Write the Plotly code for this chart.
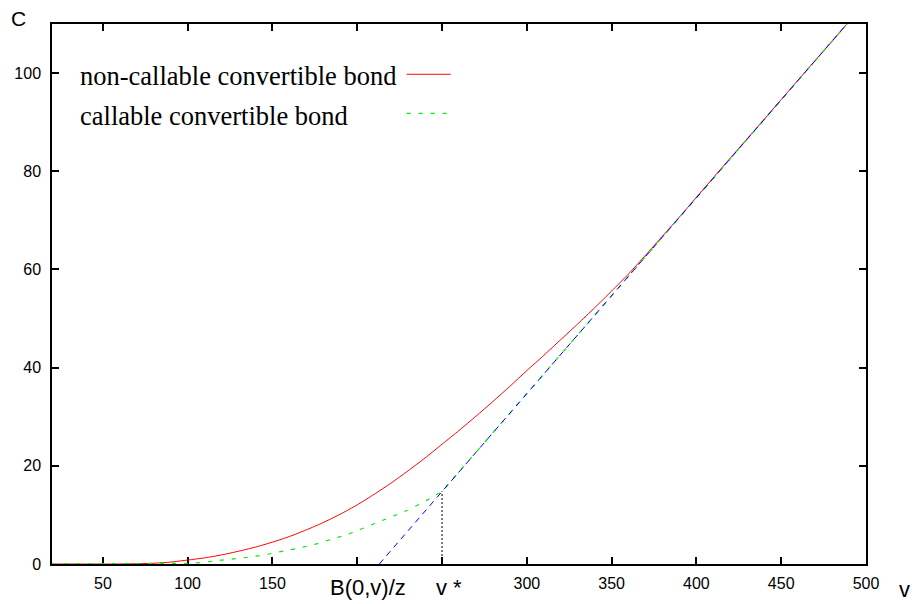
import plotly.graph_objects as go

# ---- data ----
v_red = [20, 40, 60, 80, 90, 100, 110, 120, 130, 140, 150, 160, 170, 180, 190, 200,
         210, 220, 230, 240, 250, 260, 270, 280, 290, 300, 310, 320, 330, 340, 350,
         360, 370, 380, 390, 400, 420, 440, 460, 480, 490]
c_red = [0, 0, 0, 0.15, 0.4, 0.8, 1.25, 1.85, 2.6, 3.45, 4.45, 5.6, 6.95, 8.45, 10.15, 12.05,
         14.2, 16.5, 19.0, 21.6, 24.4, 27.2, 30.1, 33.1, 36.2, 39.4, 42.5, 45.7, 48.9, 52.2, 55.6,
         59.1, 62.9, 66.8, 70.7, 74.7, 82.7, 90.6, 98.6, 106.5, 110.5]

v_green = [20, 60, 90, 100, 107, 115, 125, 135, 145, 155, 165, 175, 185, 195, 200, 210,
           217, 230, 240, 250, 300, 350, 400, 450, 490]
c_green = [0, 0, 0.05, 0.15, 0.27, 0.55, 0.95, 1.35, 1.85, 2.45, 3.2, 4.0, 5.0, 6.1, 6.8, 8.2,
           9.1, 11.0, 12.8, 14.8, 34.7, 54.7, 74.6, 94.6, 110.5]

v_blue = [213, 490]
c_blue = [0, 110.5]

v_star = [250, 250]
c_star = [0, 14.8]

x_tickvals = [50, 100, 150, 200, 250, 300, 350, 400, 450, 500]
x_ticktext = ["50", "100", "150", "", "", "300", "350", "400", "450", "500"]
y_tickvals = [0, 20, 40, 60, 80, 100]
y_ticktext = ["0", "20", "40", "60", "80", "100"]

legend_names = ["non-callable convertible bond", "callable convertible bond"]
special_ticks = [(200, "B(0,v)/z"), (250, "v *")]

# ---- figure ----
fig = go.Figure()
fig.add_trace(go.Scatter(x=v_red, y=c_red, mode="lines",
                         line=dict(color="#ff0000", width=1, shape="spline", smoothing=0.6),
                         showlegend=False))
fig.add_trace(go.Scatter(x=v_green, y=c_green, mode="lines",
                         line=dict(color="#00ee00", width=1.2, dash="4px,8px"), showlegend=False))
fig.add_trace(go.Scatter(x=v_blue, y=c_blue, mode="lines",
                         line=dict(color="#0000ff", width=1, dash="6px,5px"), showlegend=False))
fig.add_trace(go.Scatter(x=v_star, y=c_star, mode="lines",
                         line=dict(color="#000000", width=1, dash="2px,2px"), showlegend=False))

axis_common = dict(showgrid=False, zeroline=False, showline=True, linecolor="black",
                   linewidth=1.5, mirror="ticks", ticks="inside", ticklen=7,
                   tickwidth=1.5, tickcolor="black", layer="below traces",
                   tickfont=dict(family="Liberation Sans, Arial", size=16, color="black"))

fig.update_xaxes(range=[20, 500], tickmode="array", tickvals=x_tickvals,
                 ticktext=x_ticktext, ticklabelstandoff=4, **axis_common)
fig.update_yaxes(range=[0, 110], tickmode="array", tickvals=y_tickvals,
                 ticktext=y_ticktext, ticklabelstandoff=6, **axis_common)

annotations = []
# special x tick labels
shifts = [11, 7]
for (val, txt), sh in zip(special_ticks, shifts):
    annotations.append(dict(x=val, y=-0.043, xref="x", yref="paper", text=txt,
                            showarrow=False, xanchor="center", yanchor="middle", xshift=sh,
                            font=dict(family="Liberation Sans, Arial", size=22, color="black")))
# axis titles
annotations.append(dict(x=1.047, y=-0.047, xref="paper", yref="paper", text="v",
                        showarrow=False, xanchor="center", yanchor="middle",
                        font=dict(family="Liberation Sans, Arial", size=22, color="black")))
annotations.append(dict(x=-0.041, y=1.01, xref="paper", yref="paper", text="C",
                        showarrow=False, xanchor="center", yanchor="middle",
                        font=dict(family="Liberation Sans, Arial", size=21, color="black")))
# legend texts
leg_y = [0.904, 0.830]
for name, yy in zip(legend_names, leg_y):
    annotations.append(dict(x=0.032, y=yy, xref="paper", yref="paper", text=name,
                            showarrow=False, xanchor="left", yanchor="middle",
                            font=dict(family="Liberation Serif, Times New Roman", size=26.5,
                                      color="black")))

shapes = [
    dict(type="line", xref="paper", yref="paper", x0=0.4357, x1=0.4898, y0=0.9069, y1=0.9069,
         line=dict(color="#ff0000", width=1)),
    dict(type="line", xref="paper", yref="paper", x0=0.4357, x1=0.4898, y0=0.8346, y1=0.8346,
         line=dict(color="#00ee00", width=1.2, dash="4px,8px")),
]

fig.update_layout(width=916, height=604, margin=dict(l=52, r=50, t=24, b=40),
                  paper_bgcolor="white", plot_bgcolor="white",
                  annotations=annotations, shapes=shapes, showlegend=False)

fig.write_html("out.html")
